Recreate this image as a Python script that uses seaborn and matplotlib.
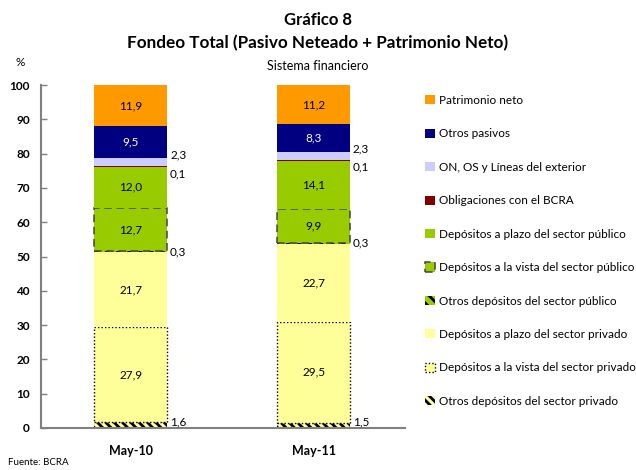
import matplotlib
matplotlib.use("Agg")
import matplotlib.pyplot as plt
import seaborn as sns
import pandas as pd
import numpy as np
from matplotlib.patches import Patch

categories = ["May-10", "May-11"]

# series listed bottom to top
series_names = [
    "Otros depósitos del sector privado",
    "Depósitos a la vista del sector privado",
    "Depósitos a plazo del sector privado",
    "Otros depósitos del sector público",
    "Depósitos a la vista del sector público",
    "Depósitos a plazo del sector público",
    "Obligaciones con el BCRA",
    "ON, OS y Líneas del exterior",
    "Otros pasivos",
    "Patrimonio neto",
]
otros_priv = [1.6, 1.5]
vista_priv = [27.9, 29.5]
plazo_priv = [21.7, 22.7]
otros_pub = [0.3, 0.3]
vista_pub = [12.7, 9.9]
plazo_pub = [12.0, 14.1]
bcra = [0.1, 0.1]
on_os = [2.3, 2.3]
otros_pas = [9.5, 8.3]
patrimonio = [11.9, 11.2]
series_values = [otros_priv, vista_priv, plazo_priv, otros_pub, vista_pub,
                 plazo_pub, bcra, on_os, otros_pas, patrimonio]
yticks = list(range(0, 101, 10))

GREEN = "#99CC00"
YELLOW = "#FFFF99"
styles = [
    dict(facecolor=YELLOW, edgecolor="black", hatch="\\\\\\\\", linewidth=0),
    dict(facecolor=YELLOW, edgecolor="black", linestyle=(0, (1, 1.5)), linewidth=1.0),
    dict(facecolor=YELLOW, edgecolor="none", linewidth=0),
    dict(facecolor=GREEN, edgecolor="black", hatch="\\\\\\", linewidth=0),
    dict(facecolor=GREEN, edgecolor="#444444", linestyle=(0, (5, 3)), linewidth=1.1),
    dict(facecolor=GREEN, edgecolor="none", linewidth=0),
    dict(facecolor="#800000", edgecolor="none", linewidth=0),
    dict(facecolor="#CCCCFF", edgecolor="none", linewidth=0),
    dict(facecolor="#000080", edgecolor="none", linewidth=0),
    dict(facecolor="#FF9900", edgecolor="none", linewidth=0),
]

plt.rcParams["font.family"] = ["Lato", "DejaVu Sans"]
plt.rcParams["hatch.linewidth"] = 2.0

fig = plt.figure(figsize=(6.36, 4.70), dpi=100)
ax = fig.add_axes([0.0645, 0.0894, 0.5725, 0.7296])

bottoms = np.zeros(len(categories))
for name, vals, st in zip(series_names, series_values, styles):
    df = pd.DataFrame({"cat": categories, "val": vals})
    sns.barplot(data=df, x="cat", y="val", order=categories, ax=ax,
                width=0.40, bottom=bottoms.copy(), errorbar=None,
                color=st["facecolor"], saturation=1, **st)
    bottoms += np.array(vals)

# value labels
def fmt(v):
    return f"{v:.1f}".replace(".", ",")

cum = np.zeros(len(categories))
starts = []
for vals in series_values:
    starts.append(cum.copy())
    cum += np.array(vals)

small = {0: 1.0, 3: 0.0, 6: -2.0, 7: 1.0}  # outside labels: y offset relative to anchor
for si, (name, vals) in enumerate(zip(series_names, series_values)):
    for ci, v in enumerate(vals):
        b = starts[si][ci]
        if si in small:
            if si == 7:
                y = b + v + small[si]
            elif si == 6:
                y = b + small[si]
            else:
                y = b + v / 2 + small[si]
            ax.text(ci + 0.215, y, fmt(v), ha="left", va="center",
                    fontsize=8.5, color="black")
        else:
            col = "white" if si == 8 else "black"
            ax.text(ci, b + v / 2, fmt(v), ha="center", va="center",
                    fontsize=8.5, color=col)

ax.set_xlim(-0.49, 1.5)
ax.set_ylim(0, 100)
ax.set_yticks(yticks)
ax.set_yticklabels([str(t) for t in yticks], fontweight="bold", fontsize=8.5)
ax.set_xlabel("")
ax.set_ylabel("")
for lbl in ax.get_xticklabels():
    lbl.set_fontweight("bold")
    lbl.set_fontsize(9)
ax.tick_params(axis="x", length=0, pad=12)
ax.tick_params(axis="y", direction="in", length=4, width=1, color="#808080", pad=8)
for s in ["top", "right"]:
    ax.spines[s].set_visible(False)
for s in ["left", "bottom"]:
    ax.spines[s].set_color("#808080")
    ax.spines[s].set_linewidth(1.5)
ax.set_facecolor("white")
ax.grid(False)

# legend (top to bottom order)
handles = []
for st in styles[::-1]:
    kw = dict(st)
    if kw.get("edgecolor") == "none":
        kw["edgecolor"] = kw["facecolor"]
    handles.append(Patch(**kw))
fig.legend(handles, series_names[::-1], loc="upper left",
           bbox_to_anchor=(0.661, 0.808), frameon=False, fontsize=8.5,
           handlelength=0.8, handleheight=0.8, handletextpad=0.4,
           labelspacing=1.9, borderaxespad=0)

fig.text(0.5, 0.957, "Gráfico 8", ha="center", va="center",
         fontsize=12, fontweight="bold")
fig.text(0.5, 0.909, "Fondeo Total (Pasivo Neteado + Patrimonio Neto)",
         ha="center", va="center", fontsize=12.3, fontweight="bold")
fig.text(0.5, 0.860, "Sistema financiero", ha="center", va="center", fontsize=9)
fig.text(0.032, 0.866, "%", ha="center", va="center", fontsize=8.5)
fig.text(0.012, 0.017, "Fuente: BCRA", ha="left", va="center", fontsize=7)

fig.savefig("out.png", dpi=100, facecolor="white")
